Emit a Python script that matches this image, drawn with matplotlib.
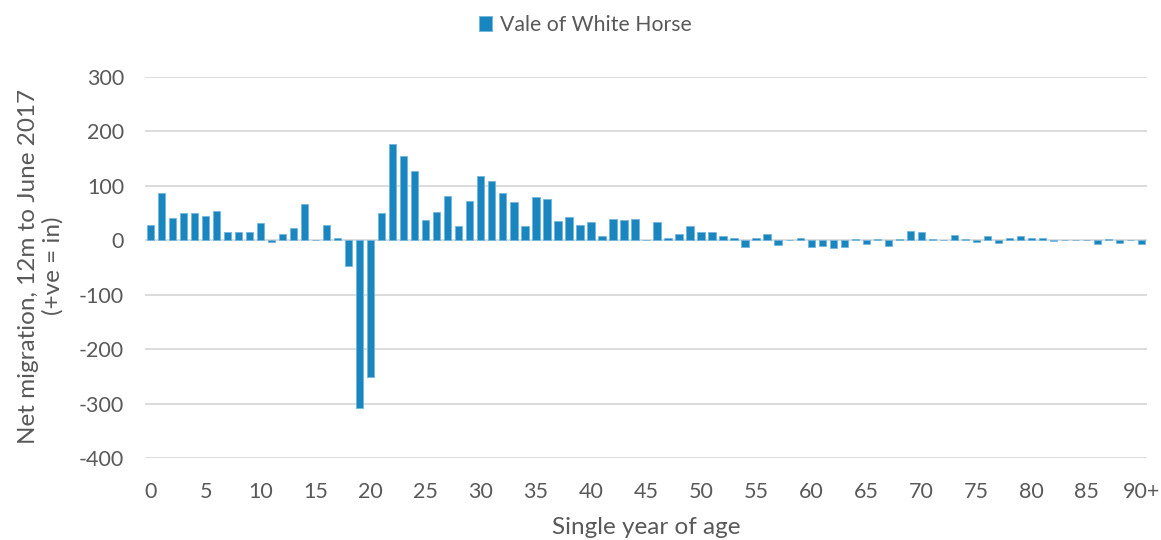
import matplotlib
matplotlib.use("Agg")
import matplotlib.pyplot as plt
import numpy as np

ages = [str(a) for a in range(90)] + ["90+"]
values = [
    28, 87, 41, 51, 50, 44, 54, 15, 15, 16,
    31, -3, 11, 23, 67, 0, 29, 4, -47, -308,
    -252, 50, 176, 155, 128, 38, 52, 82, 26, 72,
    118, 109, 86, 70, 26, 80, 75, 35, 43, 29,
    33, 8, 39, 37, 40, 0, 34, 4, 12, 26,
    15, 16, 7, 4, -13, 4, 11, -8, 0, 4,
    -13, -10, -15, -13, 2, -7, 3, -10, 2, 17,
    15, 2, 1, 10, 3, -3, 7, -5, 4, 7,
    5, 5, -1, 0.5, 1, 0, -7, 2, -5, 0,
    -7,
]
series_name = "Vale of White Horse"
yticks = [300, 200, 100, 0, -100, -200, -300, -400]
ytick_labels = ["300", "200", "100", "0", "-100", "-200", "-300", "-400"]
xtick_idx = list(range(0, 91, 5))
ylabel = "Net migration, 12m to June 2017\n(+ve = in)"
xlabel = "Single year of age"

plt.rcParams['font.family'] = ['Lato', 'DejaVu Sans']
txt = '#595959'
fig = plt.figure(figsize=(11.61, 5.40), dpi=100)
ax = fig.add_axes([145/1161, 1 - 458/540, (1147-145)/1161, (458-77)/540])

x = np.arange(len(ages))
ax.bar(x, values, width=0.66, color='#1a86bf', edgecolor='#74b6de', linewidth=0.6,
       label=series_name, zorder=3)
ax.set_xlim(-0.5, len(ages) - 0.5)
ax.set_ylim(-400, 300)
ax.set_yticks(yticks)
ax.set_yticklabels(ytick_labels)
ax.set_xticks(xtick_idx)
ax.set_xticklabels([ages[i] for i in xtick_idx])
ax.tick_params(axis='both', length=0, labelsize=15.5, colors=txt)
ax.tick_params(axis='y', pad=15)
ax.tick_params(axis='x', pad=17)
for s in ax.spines.values():
    s.set_visible(False)
ax.grid(axis='y', color='#d9d9d9', linewidth=1.3, zorder=0)
ax.set_axisbelow(True)

fig.text(41/1161, 1 - 266/540, ylabel, rotation=90, ha='center', va='center',
         fontsize=17.5, color=txt, multialignment='center', linespacing=1.2)
fig.text(646 / 1161, 1 - 527/540, xlabel, ha='center', va='center',
         fontsize=17.5, color=txt)

leg = ax.legend(loc='center', bbox_to_anchor=(585 / 1161, 1 - 25/540),
                bbox_transform=fig.transFigure, frameon=False, fontsize=15.3,
                handlelength=0.65, handleheight=0.65, handletextpad=0.35,
                borderpad=0, borderaxespad=0)
for t in leg.get_texts():
    t.set_color(txt)

fig.savefig('out.png', dpi=100)
